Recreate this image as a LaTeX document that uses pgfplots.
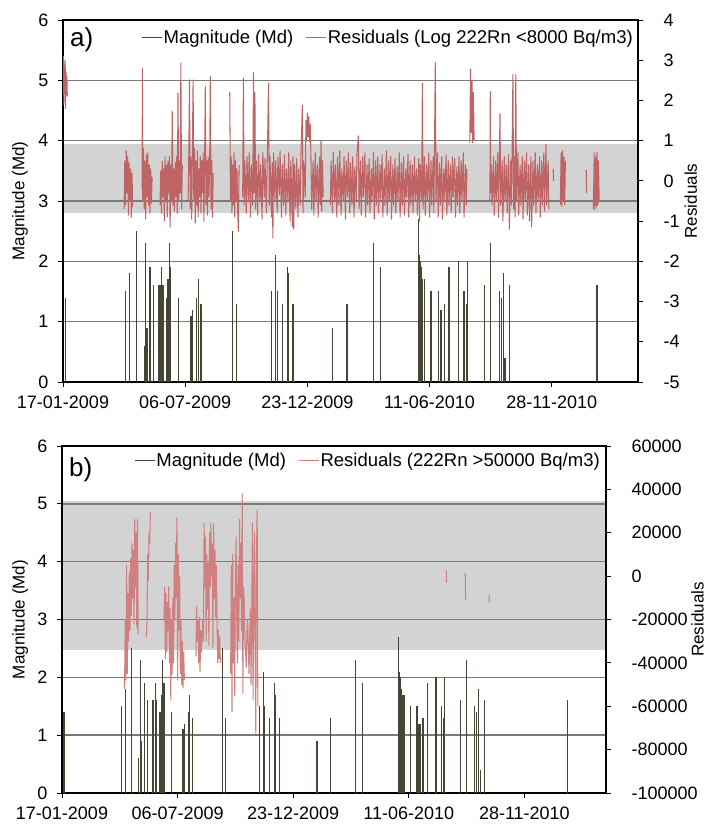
\documentclass[border=0pt]{standalone}
\usepackage{fontspec}
\setmainfont{Liberation Sans}
\usepackage{pgfplots}
\usepackage{pgfplotstable}
\pgfplotsset{compat=1.18}

\definecolor{magc}{RGB}{70,68,50}
\definecolor{resc}{RGB}{190,100,100}
\definecolor{resb}{RGB}{208,128,128}
\definecolor{bandc}{RGB}{211,211,211}
\definecolor{gridc}{RGB}{122,122,122}

% earthquake magnitudes: day since 17-01-2009, Md
\pgfplotstableread{
day mag
3 1.4
87 1.5
93 1.8
102 2.5
113 0.6
115 2.3
117 0.9
121 1.9
126 1.6
133 1.6
135 1.6
137 1.9
139 1.6
144 1.4
146 1.7
147 1.1
148 2.3
149 1.9
150 1.9
161 1.4
177 1.1
179 1.1
180 1.2
186 1.4
188 1.7
192 1.3
236 2.5
241 1.3
290 1.5
296 2.1
298 1.5
305 1.3
312 1.9
313 1.8
314 1.7
320 1.3
375 0.9
395 1.3
432 2.3
442 1.9
495 2.7
496 2.1
497 2.0
498 1.9
499 1.8
500 1.7
503 1.7
512 1.5
522 1.5
525 1.2
527 1.2
531 1.3
537 1.9
550 2.0
558 1.5
561 1.3
563 2.0
586 1.6
595 2.3
607 1.5
610 1.4
613 1.8
615 0.4
621 1.6
743 1.6
}\magdata

\pgfplotsset{
  base/.style={
    scale only axis, anchor=south west,
    xmin=0, xmax=800,
    tick align=outside, major tick length=5bp,
    tick style={black, line width=0.8bp},
    tick label style={font=\fontsize{18bp}{20bp}\selectfont},
    label style={font=\fontsize{17bp}{20bp}\selectfont, inner sep=0pt},
    axis line style={black, line width=1.2bp},
    scaled y ticks=false,
  },
  leftax/.style={
    ymin=0, ymax=6, ytick={0,1,2,3,4,5,6}, yticklabels={0,1,2,3,4,5,6},
    xtick={0,170,340,510,680},
    xticklabels={17-01-2009,06-07-2009,23-12-2009,11-06-2010,28-11-2010},
    ytick pos=left, xtick pos=left,
    yticklabel style={xshift=-6bp}, xticklabel style={yshift=-5bp},
    ymajorgrids, grid style={gridc, line width=1.6bp},
    ylabel={Magnitude (Md)},
  },
  rightax/.style={
    axis y line*=right, hide x axis,
    yticklabel style={xshift=17bp},
    ylabel={Residuals},
    unbounded coords=jump,
    legend columns=2, legend cell align=left,
    legend style={draw=none, fill=none, inner sep=0pt,
      font=\fontsize{18.5bp}{20bp}\selectfont,
      nodes={inner xsep=1bp, inner ysep=1bp},
      /tikz/every even column/.append style={column sep=11bp}},
    legend image code/.code={\draw[#1, line width=1.6bp] (0bp,0bp) -- (20bp,0bp);},
  },
}

\begin{document}
\begin{tikzpicture}
\useasboundingbox (0,0) rectangle (707bp,827bp);

% ---------------- panel a ----------------
\begin{axis}[base, at={(63bp,445bp)}, width=575bp, height=362bp,
  ymin=-5, ymax=4, hide axis]
\addplot[draw=none, fill=bandc] coordinates {(0,-0.8) (800,-0.8) (800,0.92) (0,0.92)} -- cycle;
\end{axis}

\begin{axis}[base, leftax, at={(63bp,445bp)}, width=575bp, height=362bp,
  ylabel style={at={(axis description cs:-0.075,0.5)}, anchor=center}]
\addplot[ycomb, magc, line width=1.2bp, no marks] table[x=day, y=mag] {\magdata};
\end{axis}

\begin{axis}[base, rightax, at={(63bp,445bp)}, width=575bp, height=362bp,
  ymin=-5, ymax=4, ytick={-5,-4,-3,-2,-1,0,1,2,3,4},
  yticklabels={-5,-4,-3,-2,-1,0,1,2,3,4},
  ylabel style={at={(axis description cs:1.092,0.5)}, anchor=center},
  legend style={at={(axis description cs:1,1)}, anchor=north east, xshift=-4bp, yshift=-9bp}]
\addlegendimage{magc}
\addlegendentry{Magnitude (Md)}
\addplot[resc, line width=1.05bp, line join=round] coordinates {
(0,2.4) (0.6,3.1) (1.2,1.9) (1.8,2.9) (2.4,2.2) (3,3.0) (3.6,1.8) (4.2,2.7) (4.8,2.3) (5.4,2.6) (6,2.1) (7,nan)
(85,-0.7) (86,0.5) (87,-0.6) (88,0.75) (89,-0.3) (90,0.6) (91,-0.85) (92,0.45) (93,-0.5) (94,0.3) (95,-0.9) (96,0.2) (97,-0.65) (98,nan)
(110,-0.2) (110.5,2.8) (111,-0.5) (112,0.8) (113,-0.7) (114,0.5) (115,-0.95) (116,0.65) (117,-0.4) (118,0.7) (119,-0.6) (120,0.4) (121,-0.8) (122,0.3) (123,-0.55) (124,0.1) (125,nan)
(135,-0.6) (136,0.25) (137,-0.8) (138,0.5) (139,-0.4) (140,0.3) (141,-1.0) (142,0.6) (143,-0.5) (144,0.4) (145,-0.9) (146,0.5) (147,-0.3) (148,0.6) (149,-1.15) (150,0.4) (151,-0.5) (152,1.72) (153,-0.6) (154,0.3) (155,-0.75) (156,0.45) (157,-0.4) (158,0.6) (159,-0.8) (160,2.18) (161,-0.5) (162,0.5) (163,-0.3) (164,2.93) (165,-0.7) (166,0.4) (167,nan)
(174,-0.5) (175,0.6) (176,2.51) (177,-0.7) (178,0.6) (179,-0.95) (180,0.7) (181,2.51) (182,-0.5) (183,0.8) (184,-1.05) (185,0.5) (186,-0.6) (187,0.75) (188,-0.9) (189,0.3) (190,-0.4) (191,0.6) (192,-0.8) (193,0.5) (194,-0.3) (195,0.7) (196,-1.0) (197,0.4) (198,2.35) (199,-0.6) (200,0.5) (201,-0.85) (202,0.6) (203,-0.4) (204,0.3) (205,2.6) (206,-0.7) (207,0.5) (208,-0.9) (209,0.2) (210,nan)
(232,2.2) (233,-0.5) (234,0.6) (235,-0.8) (236,0.4) (237,-0.6) (238,0.7) (239,-0.9) (240,0.5) (241,-0.5) (242,0.3) (243,-0.75) (244,-1.26) (245,0.4) (246,nan)
(250,-0.4) (251,2.55) (252,-0.6) (253,0.5) (255,-0.8) (256,0.6) (258,-0.5) (259,0.7) (261,-0.9) (262,0.4) (264,-0.6) (265,2.69) (266,-0.3) (267,2.2) (268,-0.7) (269,0.5) (271,-0.85) (272,0.65) (274,-0.5) (275,0.4) (277,-0.95) (278,0.7) (280,-0.4) (281,0.55) (283,-0.8) (284,0.3) (286,2.43) (287,-0.6) (288,0.6) (290,-0.9) (291,0.45) (292,-1.42) (293,0.7) (295,-0.5) (296,0.5) (298,-0.8) (299,0.6) (301,-0.35) (302,0.75) (304,-0.9) (305,0.4) (307,-0.6) (308,0.65) (310,-0.85) (311,0.3) (313,-0.5) (314,0.7) (316,-1.0) (317,0.5) (319,-1.14) (320,0.6) (321,-1.2) (322,0.4) (324,-0.7) (325,0.55) (327,-0.9) (328,0.3) (330,-0.6) (331,0.6) (333,1.88) (334,-0.8) (335,0.5) (337,-0.4) (338,1.5) (339,1.0) (340,1.68) (341,1.1) (342,1.6) (343,0.97) (344,1.4) (345,0.6) (346,-0.7) (348,0.5) (349,-0.85) (351,0.7) (352,-0.5) (354,0.4) (355,-0.9) (357,0.6) (358,-0.6) (359,1.0) (360,-0.75) (361,0.5) (362,-0.4) (365,nan)
(372,-0.6) (373,0.5) (375,-0.8) (376,0.7) (378,-0.5) (379,0.4) (381,-0.9) (382,0.6) (384,-0.6) (385,0.75) (387,-0.85) (388,0.3) (390,-0.5) (391,0.6) (393,-0.95) (394,0.5) (396,-0.4) (397,0.7) (399,-0.8) (400,0.45) (402,-0.6) (403,0.6) (405,-0.9) (406,0.35) (408,-0.5) (409,0.65) (411,1.12) (412,-0.7) (414,0.5) (415,-0.85) (417,0.6) (418,-0.4) (420,0.7) (421,-0.9) (423,0.4) (424,-0.6) (426,0.55) (427,-0.8) (429,0.3) (430,-0.5) (432,0.7) (433,-0.95) (435,0.5) (436,-0.6) (438,0.6) (439,-0.8) (441,0.4) (442,-0.45) (444,0.65) (445,-0.9) (447,0.3) (448,-0.6) (450,0.75) (451,-0.85) (453,0.5) (454,-0.5) (456,0.6) (457,-0.95) (459,0.4) (460,-0.6) (462,0.55) (463,-0.8) (465,0.35) (466,-0.5) (468,0.7) (469,-0.9) (471,0.45) (472,-0.6) (474,0.6) (475,-0.85) (477,0.3) (478,-0.4) (480,0.65) (481,-0.9) (483,0.5) (484,-0.6) (486,0.4) (487,-0.8) (489,0.6) (490,-0.5) (492,0.3) (493,-0.85) (495,0.55) (496,-1.0) (497,0.4)
(499,-0.5) (500,2.43) (501,-0.7) (503,0.6) (504,-0.85) (506,0.4) (507,-0.5) (509,0.7) (510,-0.9) (512,0.5) (513,-0.6) (515,0.6) (516,-0.8) (518,2.94) (519,-0.5) (521,0.7) (522,-0.9) (524,0.45) (525,-0.6) (527,0.6) (528,-0.95) (530,0.3) (531,-0.5) (533,0.65) (534,-0.85) (536,0.5) (537,-0.6) (539,0.4) (540,-0.8) (542,0.6) (543,-0.4) (545,0.55) (546,-0.9) (548,0.35) (549,-0.6) (551,0.6) (552,-0.8) (554,0.5) (555,-0.5) (557,0.7) (558,-0.9) (560,0.4) (561,-0.6) (562,0.3) (564,nan)
(566,0.95) (567,2.78) (568,1.2) (569,2.5) (570,0.95) (571,2.2) (572,1.0) (573,nan)
(594,-0.47) (594.5,2.22) (595,-0.3) (596,0.4) (597,-0.6) (599,0.6) (600,-0.85) (602,0.5) (603,-0.5) (605,0.7) (606,-0.9) (608,1.67) (609,-0.6) (611,0.5) (612,-1.0) (614,0.6) (615,-0.5) (617,0.4) (618,-0.8) (620,0.65) (621,-1.2) (623,0.5) (624,-0.6) (626,2.64) (627,-0.7) (628,0.6) (629,-0.9) (630,2.64) (631,-0.5) (633,0.7) (634,-0.85) (636,0.4) (637,-0.6) (639,0.6) (640,-0.95) (642,0.5) (643,-0.5) (645,0.7) (646,-0.85) (648,0.4) (649,-1.0) (651,0.6) (652,-1.14) (654,0.5) (655,-0.6) (657,0.7) (658,-0.8) (660,0.4) (661,-0.5) (663,0.6) (664,-0.9) (666,0.5) (667,-0.6) (669,0.7) (670,-0.75) (672,0.9) (673,-0.6) (675,0.5) (676,-0.7) (678,nan)
(682,0.3) (682.5,0.0) (683,nan)
(692,-0.6) (693,0.7) (694,-0.64) (695,0.75) (696,-0.5) (697,0.6) (698,-0.6) (699,0.5) (700,nan)
(728,0.27) (728.5,-0.3) (729,nan)
(738,-0.7) (739,0.7) (740,-0.72) (741,0.6) (742,-0.65) (743,0.72) (744,-0.6) (745,0.5) (746,-0.5)
};
\addlegendentry{Residuals (Log 222Rn <8000 Bq/m3)}
\node[anchor=west, inner sep=0pt, font=\fontsize{26bp}{28bp}\selectfont, xshift=7bp, yshift=-20bp]
  at (axis description cs:0,1) {a)};
\end{axis}

% ---------------- panel b ----------------
\begin{axis}[base, at={(62bp,34bp)}, width=544bp, height=347bp,
  ymin=-100000, ymax=60000, hide axis]
\addplot[draw=none, fill=bandc] coordinates {(0,-34000) (800,-34000) (800,34600) (0,34600)} -- cycle;
\end{axis}

\begin{axis}[base, leftax, at={(62bp,34bp)}, width=544bp, height=347bp,
  ylabel style={at={(axis description cs:-0.077,0.5)}, anchor=center}]
\addplot[ycomb, magc, line width=1.2bp, no marks] table[x=day, y=mag] {\magdata};
\end{axis}

\begin{axis}[base, rightax, at={(62bp,34bp)}, width=544bp, height=347bp,
  ymin=-100000, ymax=60000,
  ytick={-100000,-80000,-60000,-40000,-20000,0,20000,40000,60000},
  yticklabels={-100000,-80000,-60000,-40000,-20000,0,20000,40000,60000},
  ylabel style={at={(axis description cs:1.1685,0.5)}, anchor=center},
  legend style={at={(axis description cs:1,1)}, anchor=north east, xshift=-5bp, yshift=-6bp}]
\addlegendimage{magc}
\addlegendentry{Magnitude (Md)}
\addplot[resb, line width=1.05bp, line join=round] coordinates {
(92,-52000) (93,-20000) (94,-48000) (95,5000) (96,-45000) (97,-8000) (98,-30000) (99,2000) (100,-25000) (101,8000) (102,-18000) (103,15000) (104,-10000) (105,12000) (106,-22000) (107,26000) (108,-5000) (109,20000) (110,-24000) (111,26000) (112,-27000) (113,nan)
(124,-28000) (125,-20000) (126,10000) (127,-2000) (128,20000) (129,15000) (130,29600) (131,nan)
(150,-20000) (151,-5000) (152,-38000) (153,-8000) (154,-35000) (155,-12000) (156,-25000) (157,-5000) (158,-40000) (159,-15000) (160,-57000) (161,-20000) (162,-45000) (163,-10000) (164,-40000) (165,5000) (166,-20000) (167,15000) (168,-10000) (169,27000) (170,-48000) (171,10000) (172,-25000) (173,0) (174,-45000) (175,-20000) (176,-50000) (177,-30000) (178,-51600) (179,-35000) (180,-48000) (181,nan)
(197,-37000) (198,-14000) (199,-30000) (200,-20000) (201,-40000) (202,-19000) (203,-44000) (204,-25000) (205,-35000) (207,-20000) (208,-30000) (209,24500) (210,-5000) (211,18000) (212,-30000) (213,10000) (214,-15000) (215,6000) (216,-32000) (217,20000) (218,-5000) (219,24500) (220,0) (221,15000) (222,-33000) (223,24000) (224,-10000) (225,12000) (226,-19000) (227,5000) (228,-21000) (229,-40000) (230,-25000) (231,-38000) (232,-28000) (233,-40000) (234,nan)
(248,-45000) (249,5000) (250,-62500) (251,10000) (252,-40000) (253,-10000) (254,-55000) (255,0) (256,18000) (257,-20000) (258,-40000) (259,5000) (260,-30000) (261,26000) (262,-10000) (263,15000) (264,-25000) (265,38000) (266,-54000) (267,-5000) (268,-12000) (269,-30000) (270,-35000) (271,-42000) (272,-25000) (273,-20000) (275,-45000) (277,-15000) (278,-50000) (279,-20000) (280,24500) (281,-57000) (282,-10000) (283,20000) (284,-30000) (285,-72500) (286,10000) (287,30500) (288,-60000) (289,nan)
(565,2800) (565.5,-3200) (566,nan)
(593,1400) (593.5,-11000) (594,nan)
(628,-8700) (628.5,-12000)
};
\addlegendentry{Residuals (222Rn >50000 Bq/m3)}
\node[anchor=west, inner sep=0pt, font=\fontsize{26bp}{28bp}\selectfont, xshift=7bp, yshift=-24bp]
  at (axis description cs:0,1) {b)};
\end{axis}
\end{tikzpicture}
\end{document}
